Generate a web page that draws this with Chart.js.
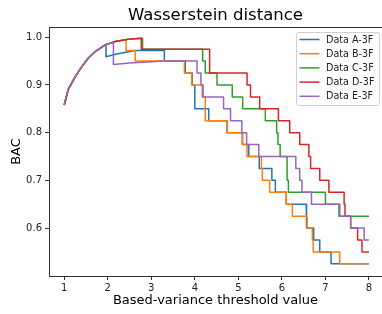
<!DOCTYPE html>
<html lang="en">
<head>
<meta charset="UTF-8">
<title>Wasserstein distance</title>
<script src="https://cdn.jsdelivr.net/npm/chart.js"></script>
<style>
    html, body { margin: 0; padding: 0; background: #fff; }
    canvas { display: block; }
</style>
</head>
<body>
<canvas id="chart" width="382" height="314"></canvas>
<script>
// axis ticks
const xTicks = [1, 2, 3, 4, 5, 6, 7, 8];
const yTicks = [0.6, 0.7, 0.8, 0.9, 1.0];
const xEnd = 8;

const seriesNames = ['Data A-3F', 'Data B-3F', 'Data C-3F', 'Data D-3F', 'Data E-3F'];
const seriesColors = ['#1f77b4', '#ff7f0e', '#2ca02c', '#d62728', '#9467bd'];

// smooth part of each curve (a repeated x is a vertical jump)
// then the steps: at stepX[i] the value becomes stepY[i]
const aCurveX = [1.0, 1.09, 1.25, 1.40, 1.55, 1.71, 1.96, 1.96, 2.20, 2.45, 2.63];
const aCurveY = [0.858, 0.890, 0.917, 0.938, 0.956, 0.970, 0.985, 0.959, 0.965, 0.969, 0.972];
const aStepX = [3.30, 3.78, 3.94, 4.00, 4.32, 4.74, 5.09, 5.24, 5.48, 5.77, 5.85, 6.10, 6.56, 6.57, 6.73, 6.87, 7.13];
const aStepY = [0.95, 0.925, 0.9, 0.85, 0.825, 0.8, 0.775, 0.75, 0.725, 0.7, 0.675, 0.65, 0.625, 0.6, 0.575, 0.55, 0.525];

const bCurveX = [1.0, 1.09, 1.25, 1.40, 1.55, 1.71, 1.94, 2.17, 2.42];
const bCurveY = [0.858, 0.890, 0.917, 0.938, 0.956, 0.970, 0.984, 0.991, 0.994];
const bStepX = [2.42, 2.63, 3.76, 3.93, 4.17, 4.24, 4.75, 5.10, 5.20, 5.53, 5.55, 5.72, 6.10, 6.24, 6.58, 6.70, 6.72, 7.33];
const bStepY = [0.972, 0.95, 0.925, 0.9, 0.875, 0.825, 0.8, 0.775, 0.75, 0.725, 0.7, 0.675, 0.65, 0.625, 0.6, 0.575, 0.55, 0.525];

const cCurveX = [1.0, 1.09, 1.25, 1.40, 1.55, 1.71, 1.94, 2.17, 2.47, 2.80];
const cCurveY = [0.858, 0.890, 0.917, 0.938, 0.956, 0.970, 0.984, 0.991, 0.996, 0.998];
const cStepX = [2.80, 4.18, 4.24, 4.51, 4.86, 5.10, 5.62, 5.88, 5.91, 5.96, 6.12, 6.15, 7.00, 7.31];
const cStepY = [0.975, 0.95, 0.925, 0.9, 0.875, 0.85, 0.825, 0.8, 0.775, 0.75, 0.7, 0.675, 0.65, 0.625];

const dCurveX = [1.0, 1.09, 1.25, 1.40, 1.55, 1.71, 1.94, 2.17, 2.47, 2.77];
const dCurveY = [0.858, 0.890, 0.917, 0.938, 0.956, 0.970, 0.984, 0.991, 0.996, 0.998];
const dStepX = [2.77, 4.34, 5.20, 5.28, 5.49, 5.92, 6.18, 6.41, 6.62, 6.66, 6.87, 7.08, 7.43, 7.45, 7.58, 7.74, 7.84];
const dStepY = [0.975, 0.925, 0.9, 0.875, 0.85, 0.825, 0.8, 0.775, 0.75, 0.725, 0.7, 0.675, 0.65, 0.625, 0.6, 0.575, 0.55];

const eCurveX = [1.0, 1.09, 1.25, 1.40, 1.55, 1.71, 1.94, 2.13, 2.13, 2.50, 2.90, 3.30];
const eCurveY = [0.858, 0.890, 0.917, 0.938, 0.956, 0.970, 0.984, 0.990, 0.943, 0.946, 0.948, 0.95];
const eStepX = [4.05, 4.14, 4.19, 4.66, 4.82, 5.08, 5.19, 5.47, 6.32, 6.41, 6.46, 6.68, 7.33, 7.58, 7.89];
const eStepY = [0.925, 0.9, 0.875, 0.85, 0.825, 0.8, 0.775, 0.75, 0.725, 0.7, 0.675, 0.65, 0.625, 0.6, 0.575];

function buildPoints(cx, cy, sx, sy) {
    const pts = cx.map((x, i) => ({ x: x, y: cy[i] }));
    let cur = cy[cy.length - 1];
    sx.forEach((x, i) => {
        pts.push({ x: x, y: cur });
        pts.push({ x: x, y: sy[i] });
        cur = sy[i];
    });
    pts.push({ x: xEnd, y: cur });
    return pts;
}

const allPoints = [
    buildPoints(aCurveX, aCurveY, aStepX, aStepY),
    buildPoints(bCurveX, bCurveY, bStepX, bStepY),
    buildPoints(cCurveX, cCurveY, cStepX, cStepY),
    buildPoints(dCurveX, dCurveY, dStepX, dStepY),
    buildPoints(eCurveX, eCurveY, eStepX, eStepY)
];

const FONT = 'DejaVu Sans';
const INK = '#222';

// top spine + legend like matplotlib
const extras = {
    id: 'extras',
    afterDraw(chart) {
        const { ctx, chartArea } = chart;
        ctx.save();
        ctx.strokeStyle = '#333';
        ctx.lineWidth = 1;
        ctx.beginPath();
        ctx.moveTo(chartArea.left, chartArea.top + 0.5);
        ctx.lineTo(chartArea.right, chartArea.top + 0.5);
        ctx.stroke();

        // legend box
        const w = 83, h = 73;
        const left = chartArea.right - 85.5, top = chartArea.top + 5.5;
        ctx.fillStyle = 'rgba(255,255,255,0.8)';
        ctx.strokeStyle = '#d0d0d0';
        ctx.beginPath();
        ctx.roundRect(left, top, w, h, 2.5);
        ctx.fill();
        ctx.stroke();

        ctx.font = '9.6px "' + FONT + '"';
        ctx.textBaseline = 'middle';
        ctx.textAlign = 'left';
        chart.data.datasets.forEach((ds, i) => {
            const y = top + 7 + i * 14.2;
            ctx.strokeStyle = ds.borderColor;
            ctx.lineWidth = 1.5;
            ctx.beginPath();
            ctx.moveTo(left + 3, y);
            ctx.lineTo(left + 23, y);
            ctx.stroke();
            ctx.fillStyle = INK;
            ctx.fillText(ds.label, left + 29.5, y + 0.5);
        });
        ctx.restore();
    }
};

new Chart(document.getElementById('chart'), {
    type: 'line',
    data: {
        datasets: seriesNames.map((name, i) => ({
            label: name,
            data: allPoints[i],
            borderColor: seriesColors[i],
            backgroundColor: seriesColors[i],
            borderWidth: 1.5,
            pointRadius: 0,
            tension: 0,
            fill: false,
            borderJoinStyle: 'round',
            order: 4 - i
        }))
    },
    options: {
        responsive: false,
        animation: false,
        devicePixelRatio: 1,
        layout: { padding: 0 },
        plugins: {
            legend: { display: false },
            tooltip: { enabled: false },
            title: {
                display: true,
                fullSize: false,
                text: 'Wasserstein distance',
                color: '#000',
                font: { family: FONT, size: 16.5, weight: 'normal' },
                padding: { top: 6, bottom: 1.2 }
            }
        },
        scales: {
            x: {
                type: 'linear',
                min: 0.65,
                max: 8.30,
                afterBuildTicks: s => { s.ticks = xTicks.map(v => ({ value: v })); },
                afterFit: s => { s.height = 38; },
                ticks: {
                    autoSkip: false,
                    maxRotation: 0,
                    padding: 2,
                    color: INK,
                    font: { family: FONT, size: 10 },
                    callback: v => String(v)
                },
                grid: { drawOnChartArea: false, drawTicks: true, tickLength: 4, tickColor: '#333' },
                border: { display: true, color: '#333', width: 1 },
                title: {
                    display: true,
                    text: 'Based-variance threshold value',
                    color: '#000',
                    font: { family: FONT, size: 13 },
                    padding: { top: 0, bottom: 6 }
                }
            },
            y: {
                type: 'linear',
                min: 0.4995,
                max: 1.0215,
                afterBuildTicks: s => { s.ticks = yTicks.map(v => ({ value: v })); },
                afterFit: s => { s.width = 49; },
                ticks: {
                    padding: 3,
                    color: INK,
                    font: { family: FONT, size: 10 },
                    callback: v => v.toFixed(1)
                },
                grid: { drawOnChartArea: false, drawTicks: true, tickLength: 4, tickColor: '#333' },
                border: { display: true, color: '#333', width: 1 },
                title: {
                    display: true,
                    text: 'BAC',
                    color: '#000',
                    font: { family: FONT, size: 13 },
                    padding: { top: 9, bottom: 0 }
                }
            }
        }
    },
    plugins: [extras]
});
</script>
</body>
</html>
